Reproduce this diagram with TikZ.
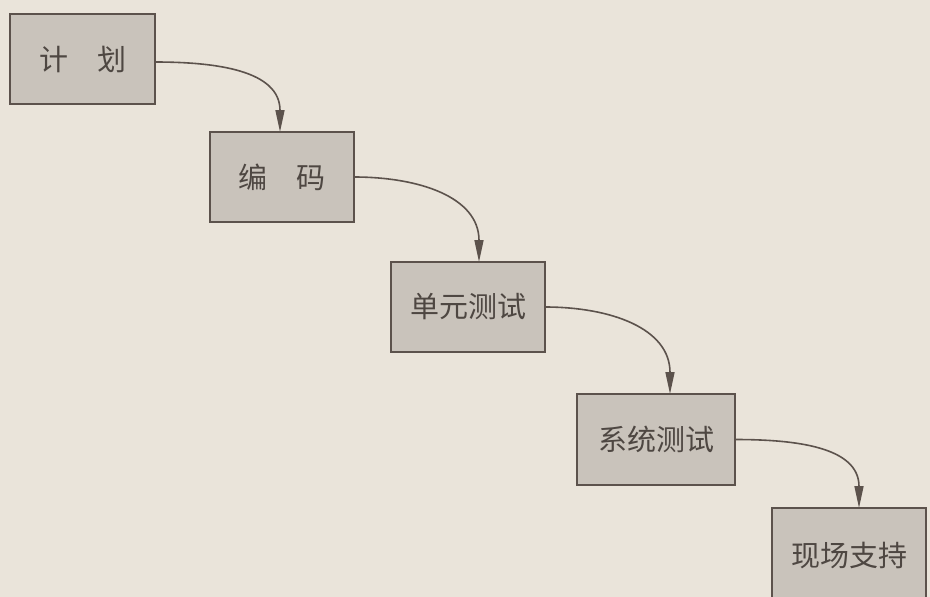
\documentclass[tikz,border=0pt]{standalone}
\usepackage{fontspec}
\newfontfamily\cjk{Noto Sans CJK SC}
\usetikzlibrary{positioning, arrows.meta}

\definecolor{paper}{HTML}{EAE4DA}
\definecolor{boxfill}{HTML}{C9C3BB}
\definecolor{boxline}{HTML}{5C524C}
\definecolor{ink}{HTML}{4E4742}

\begin{document}
\begin{tikzpicture}[
   x=1pt, y=-1pt,
   node distance = 0pt,
    stage/.style = {rectangle, draw=boxline, line width=2pt,
                    fill=boxfill, minimum height=90pt,
                    inner sep=0pt, outer sep=0pt, text=ink,
                    font=\cjk\fontsize{29}{29}\selectfont},
     flow/.style = {draw=boxline, line width=1.6pt,
                    -{Triangle[length=22pt,width=9pt]}}
                    ]
  \fill[paper] (0,0) rectangle (930,597);
  \useasboundingbox (0,0) rectangle (930,597);
  \node (n1) [stage, minimum width=145pt, anchor=north west]
        at (10,14) {计\hspace{1em}划};
  \node (n2) [stage, minimum width=144pt,
              below right=28pt and 55pt of n1.south east,
              anchor=north west] {编\hspace{1em}码};
  \node (n3) [stage, minimum width=154pt,
              below right=40pt and 37pt of n2.south east,
              anchor=north west] {单元测试};
  \node (n4) [stage, minimum width=158pt, minimum height=91pt,
              below right=42pt and 32pt of n3.south east,
              anchor=north west] {系统测试};
  \node (n5) [stage, minimum width=154pt, minimum height=96pt,
              below right=23pt and 37pt of n4.south east,
              anchor=north west] {现场支持};
  % connectors
    \draw [flow] ([yshift=-3pt]n1.east) to[out=0, in=90, looseness=1.1]
        ([xshift=-2pt]n2.north);
    \draw [flow] (n2.east) to[out=0, in=90, looseness=1.1]
        ([xshift=11pt]n3.north);
    \draw [flow] (n3.east) to[out=0, in=90, looseness=1.1]
        ([xshift=14pt]n4.north);
    \draw [flow] (n4.east) to[out=0, in=90, looseness=1.1]
        ([xshift=10pt]n5.north);
\end{tikzpicture}
\end{document}
